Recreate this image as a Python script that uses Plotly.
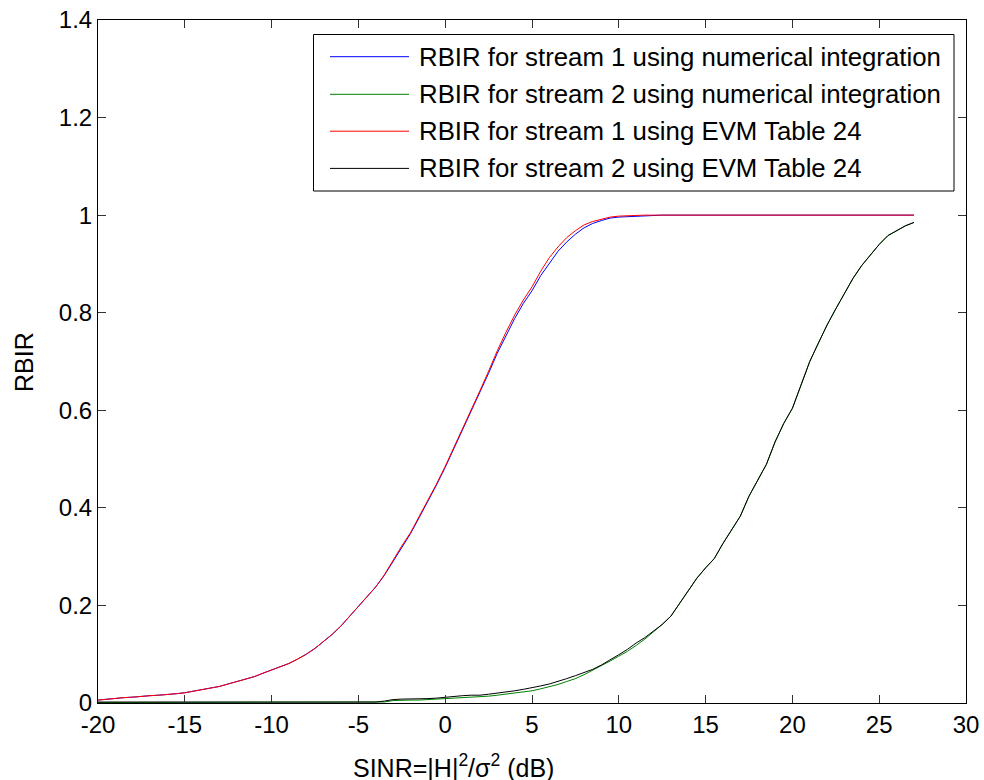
import plotly.graph_objects as go

# ---------------- data ----------------
sinr_db = [-20, -19.5, -19, -18.5, -18, -17.5, -17, -16.5, -16, -15.5, -15, -14.5, -14, -13.5,
           -13, -12.5, -12, -11.5, -11, -10.5, -10, -9.5, -9, -8.5, -8, -7.5, -7, -6.5, -6,
           -5.5, -5, -4.5, -4, -3.5, -3, -2.5, -2, -1.5, -1, -0.5, 0, 0.5, 1, 1.5, 2, 2.5, 3,
           3.5, 4, 4.5, 5, 5.5, 6, 6.5, 7, 7.5, 8, 8.5, 9, 9.5, 10, 10.5, 11, 11.5, 12, 12.5,
           13, 13.5, 14, 14.5, 15, 15.5, 16, 16.5, 17, 17.5, 18, 18.5, 19, 19.5, 20, 20.5, 21,
           21.5, 22, 22.5, 23, 23.5, 24, 24.5, 25, 25.5, 26, 26.5, 27]

rbir_s1_numerical = [0.006, 0.008, 0.010, 0.011, 0.012, 0.014, 0.015, 0.016, 0.017, 0.019, 0.021,
                     0.024, 0.027, 0.030, 0.034, 0.039, 0.044, 0.049, 0.054, 0.061, 0.068, 0.074,
                     0.081, 0.090, 0.100, 0.112, 0.126, 0.141, 0.158, 0.178, 0.197, 0.217, 0.238,
                     0.262, 0.291, 0.320, 0.347, 0.380, 0.412, 0.447, 0.483, 0.521, 0.560, 0.598,
                     0.637, 0.676, 0.717, 0.754, 0.788, 0.819, 0.845, 0.876, 0.902, 0.926, 0.945,
                     0.961, 0.974, 0.983, 0.989, 0.994, 0.996, 0.997, 0.998, 0.999, 1.0, 1.0,
                     1.0, 1.0, 1.0, 1.0, 1.0, 1.0, 1.0, 1.0, 1.0, 1.0, 1.0, 1.0, 1.0, 1.0, 1.0,
                     1.0, 1.0, 1.0, 1.0, 1.0, 1.0, 1.0, 1.0, 1.0, 1.0, 1.0, 1.0, 1.0, 1.0]

rbir_s2_numerical = [0.001, 0.001, 0.001, 0.001, 0.001, 0.001, 0.001, 0.001, 0.001, 0.001, 0.001,
                     0.001, 0.001, 0.001, 0.001, 0.001, 0.001, 0.001, 0.001, 0.001, 0.001, 0.001,
                     0.001, 0.001, 0.001, 0.001, 0.001, 0.001, 0.001, 0.001, 0.001, 0.001, 0.001,
                     0.002, 0.005, 0.006, 0.006, 0.006, 0.007, 0.007, 0.008, 0.009, 0.011, 0.012,
                     0.013, 0.014, 0.016, 0.018, 0.020, 0.022, 0.025, 0.029, 0.033, 0.038, 0.044,
                     0.050, 0.058, 0.067, 0.077, 0.086, 0.096, 0.106, 0.118, 0.131, 0.146, 0.161,
                     0.178, 0.204, 0.232, 0.256, 0.277, 0.296, 0.327, 0.356, 0.383, 0.424, 0.457,
                     0.489, 0.535, 0.573, 0.604, 0.652, 0.700, 0.738, 0.775, 0.808, 0.840, 0.871,
                     0.897, 0.918, 0.940, 0.958, 0.968, 0.978, 0.985]

rbir_s1_evm = [0.006, 0.008, 0.010, 0.011, 0.012, 0.014, 0.015, 0.016, 0.017, 0.019, 0.021,
               0.024, 0.027, 0.030, 0.034, 0.039, 0.044, 0.049, 0.054, 0.061, 0.068, 0.074,
               0.081, 0.090, 0.100, 0.112, 0.126, 0.141, 0.158, 0.178, 0.197, 0.217, 0.238,
               0.263, 0.293, 0.322, 0.349, 0.382, 0.414, 0.449, 0.485, 0.523, 0.562, 0.600,
               0.640, 0.680, 0.722, 0.760, 0.795, 0.826, 0.853, 0.885, 0.913, 0.935, 0.954,
               0.968, 0.980, 0.987, 0.992, 0.996, 0.998, 0.999, 1.0, 1.0, 1.0, 1.0,
               1.0, 1.0, 1.0, 1.0, 1.0, 1.0, 1.0, 1.0, 1.0, 1.0, 1.0, 1.0, 1.0, 1.0, 1.0,
               1.0, 1.0, 1.0, 1.0, 1.0, 1.0, 1.0, 1.0, 1.0, 1.0, 1.0, 1.0, 1.0, 1.0]

rbir_s2_evm = [0.002, 0.002, 0.002, 0.002, 0.002, 0.002, 0.002, 0.002, 0.002, 0.002, 0.002,
               0.002, 0.002, 0.002, 0.002, 0.002, 0.002, 0.002, 0.002, 0.002, 0.002, 0.002,
               0.002, 0.002, 0.002, 0.002, 0.002, 0.002, 0.002, 0.002, 0.002, 0.002, 0.002,
               0.004, 0.007, 0.008, 0.008, 0.008, 0.009, 0.010, 0.012, 0.013, 0.015, 0.016,
               0.016, 0.018, 0.020, 0.022, 0.025, 0.028, 0.031, 0.035, 0.039, 0.044, 0.050,
               0.056, 0.063, 0.069, 0.078, 0.088, 0.099, 0.110, 0.123, 0.134, 0.147, 0.161,
               0.178, 0.204, 0.232, 0.256, 0.277, 0.296, 0.327, 0.356, 0.383, 0.424, 0.457,
               0.489, 0.535, 0.573, 0.604, 0.652, 0.700, 0.738, 0.775, 0.808, 0.840, 0.871,
               0.897, 0.918, 0.940, 0.958, 0.968, 0.978, 0.985]

series_names = ["RBIR for stream 1 using numerical integration",
                "RBIR for stream 2 using numerical integration",
                "RBIR for stream 1 using EVM Table 24",
                "RBIR for stream 2 using EVM Table 24"]
series_values = [rbir_s1_numerical, rbir_s2_numerical, rbir_s1_evm, rbir_s2_evm]
series_colors = ["#0000ff", "#008000", "#ff0000", "#000000"]

x_ticks = [-20, -15, -10, -5, 0, 5, 10, 15, 20, 25, 30]
x_tick_labels = ["-20", "-15", "-10", "-5", "0", "5", "10", "15", "20", "25", "30"]
y_ticks = [0, 0.2, 0.4, 0.6, 0.8, 1, 1.2, 1.4]
y_tick_labels = ["0", "0.2", "0.4", "0.6", "0.8", "1", "1.2", "1.4"]

# ---------------- layout geometry (pixels) ----------------
W, H = 984, 780
L, R, T, B = 98, 18, 20, 77
PW, PH = W - L - R, H - T - B

def px(xp):
    return (xp - L) / PW

def py(yp):
    return (H - B - yp) / PH

FONT = "Liberation Sans, Arial, Helvetica, sans-serif"

fig = go.Figure()
for name, vals, col in zip(series_names, series_values, series_colors):
    fig.add_trace(go.Scatter(x=sinr_db, y=vals, mode="lines", name=name,
                             line=dict(color=col, width=1), showlegend=False,
                             hoverinfo="skip"))

# manual MATLAB-style legend
shapes = [dict(type="rect", xref="paper", yref="paper",
               x0=px(313.5), x1=px(954), y0=py(191), y1=py(34.5),
               line=dict(color="black", width=1), fillcolor="white", layer="above")]
annotations = []
row_y = [56.7, 94.3, 131.2, 168.4]
for name, col, yy in zip(series_names, series_colors, row_y):
    shapes.append(dict(type="line", xref="paper", yref="paper",
                       x0=px(330), x1=px(409), y0=py(yy), y1=py(yy),
                       line=dict(color=col, width=1), layer="above"))
    annotations.append(dict(xref="paper", yref="paper", x=px(417), y=py(yy),
                            xanchor="left", yanchor="middle", text=name, showarrow=False,
                            font=dict(family=FONT, size=25.8, color="black")))

# axis titles
annotations.append(dict(xref="paper", yref="paper", x=px(453), y=py(766),
                        xanchor="center", yanchor="middle",
                        text="SINR=|H|<sup>2</sup>/σ<sup>2</sup> (dB)", showarrow=False,
                        font=dict(family=FONT, size=25, color="black")))
annotations.append(dict(xref="paper", yref="paper", x=px(24), y=py(362),
                        xanchor="center", yanchor="middle", textangle=-90,
                        text="RBIR", showarrow=False,
                        font=dict(family=FONT, size=25, color="black")))

fig.update_layout(
    width=W, height=H,
    margin=dict(l=L, r=R, t=T, b=B, pad=0, autoexpand=False),
    paper_bgcolor="white", plot_bgcolor="white",
    font=dict(family=FONT, size=24, color="black"),
    shapes=shapes, annotations=annotations,
    showlegend=False,
)
fig.update_xaxes(range=[-20, 30], tickvals=x_ticks, ticktext=x_tick_labels, ticks="inside",
                 ticklen=8, tickcolor="#333333", tickwidth=1, showline=True,
                 linecolor="black", linewidth=1, mirror="ticks", showgrid=False,
                 zeroline=False, automargin=False,
                 tickfont=dict(family=FONT, size=24, color="black"))
fig.update_yaxes(range=[0, 1.4], tickvals=y_ticks, ticktext=y_tick_labels, ticks="inside",
                 ticklen=8, tickcolor="#333333", tickwidth=1, showline=True,
                 linecolor="black", linewidth=1, mirror="ticks", showgrid=False,
                 zeroline=False, automargin=False,
                 tickfont=dict(family=FONT, size=24, color="black"))

fig.write_html("out.html", config={"displayModeBar": False},
               post_script="document.body.style.margin='0';document.body.style.overflow='hidden';")
